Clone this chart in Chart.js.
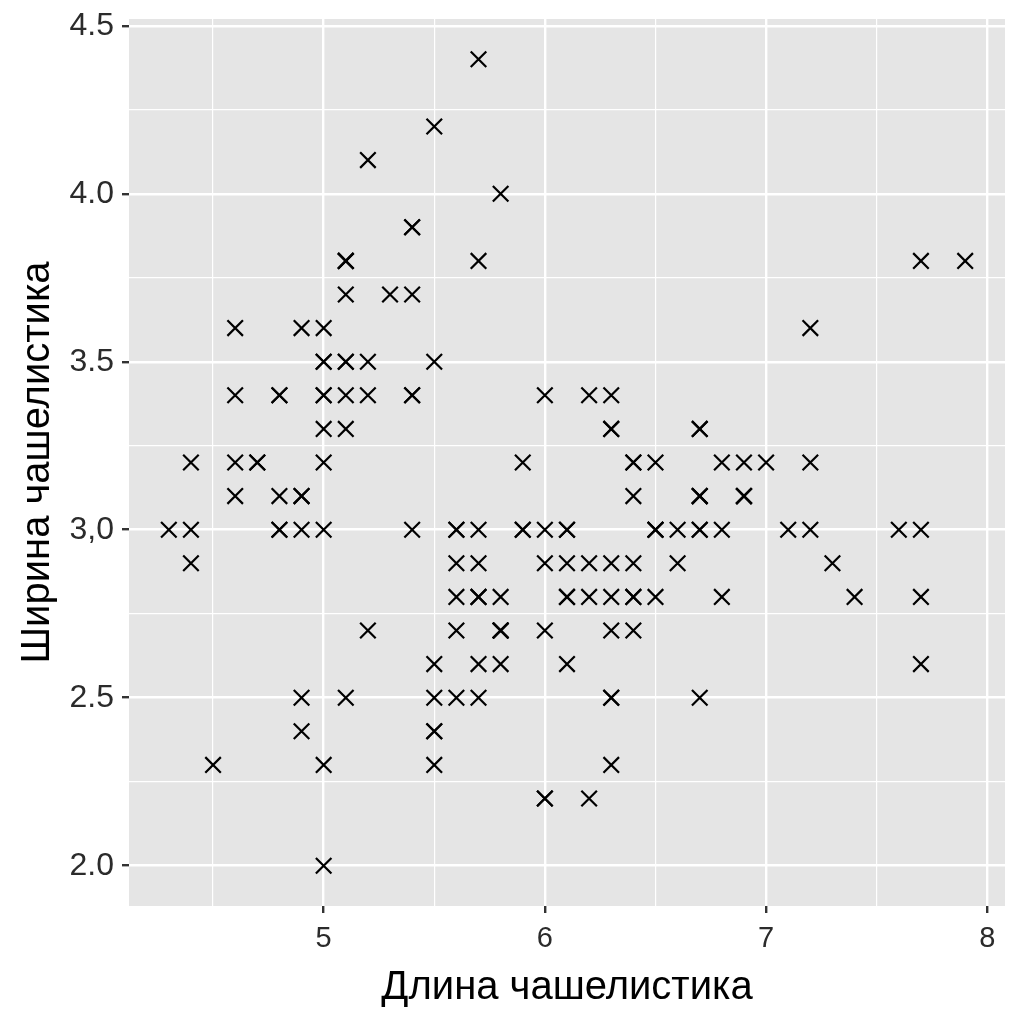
<!DOCTYPE html>
<html>
<head>
<meta charset="utf-8">
<script src="https://cdn.jsdelivr.net/npm/chart.js@4"></script>
<style>
  html, body { margin: 0; padding: 0; background: #fff; }
  #wrap { width: 1024px; height: 1024px; }
</style>
</head>
<body>
<div id="wrap"><canvas id="c" width="1024" height="1024"></canvas></div>
<script>
// iris: sepal length / sepal width
var sepalLength = [
  5.1,4.9,4.7,4.6,5.0,5.4,4.6,5.0,4.4,4.9,5.4,4.8,4.8,4.3,5.8,5.7,5.4,5.1,5.7,5.1,
  5.4,5.1,4.6,5.1,4.8,5.0,5.0,5.2,5.2,4.7,4.8,5.4,5.2,5.5,4.9,5.0,5.5,4.9,4.4,5.1,
  5.0,4.5,4.4,5.0,5.1,4.8,5.1,4.6,5.3,5.0,
  7.0,6.4,6.9,5.5,6.5,5.7,6.3,4.9,6.6,5.2,5.0,5.9,6.0,6.1,5.6,6.7,5.6,5.8,6.2,5.6,
  5.9,6.1,6.3,6.1,6.4,6.6,6.8,6.7,6.0,5.7,5.5,5.5,5.8,6.0,5.4,6.0,6.7,6.3,5.6,5.5,
  5.5,6.1,5.8,5.0,5.6,5.7,5.7,6.2,5.1,5.7,
  6.3,5.8,7.1,6.3,6.5,7.6,4.9,7.3,6.7,7.2,6.5,6.4,6.8,5.7,5.8,6.4,6.5,7.7,7.7,6.0,
  6.9,5.6,7.7,6.3,6.7,7.2,6.2,6.1,6.4,7.2,7.4,7.9,6.4,6.3,6.1,7.7,6.3,6.4,6.0,6.9,
  6.7,6.9,5.8,6.8,6.7,6.7,6.3,6.5,6.2,5.9
];
var sepalWidth = [
  3.5,3.0,3.2,3.1,3.6,3.9,3.4,3.4,2.9,3.1,3.7,3.4,3.0,3.0,4.0,4.4,3.9,3.5,3.8,3.8,
  3.4,3.7,3.6,3.3,3.4,3.0,3.4,3.5,3.4,3.2,3.1,3.4,4.1,4.2,3.1,3.2,3.5,3.6,3.0,3.4,
  3.5,2.3,3.2,3.5,3.8,3.0,3.8,3.2,3.7,3.3,
  3.2,3.2,3.1,2.3,2.8,2.8,3.3,2.4,2.9,2.7,2.0,3.0,2.2,2.9,2.9,3.1,3.0,2.7,2.2,2.5,
  3.2,2.8,2.5,2.8,2.9,3.0,2.8,3.0,2.9,2.6,2.4,2.4,2.7,2.7,3.0,3.4,3.1,2.3,3.0,2.5,
  2.6,3.0,2.6,2.3,2.7,3.0,2.9,2.9,2.5,2.8,
  3.3,2.7,3.0,2.9,3.0,3.0,2.5,2.9,2.5,3.6,3.2,2.7,3.0,2.5,2.8,3.2,3.0,3.8,2.6,2.2,
  3.2,2.8,2.8,2.7,3.3,3.2,2.8,3.0,2.8,3.0,2.8,3.8,2.8,2.8,2.6,3.0,3.4,3.1,3.0,3.1,
  3.1,3.1,2.7,3.2,3.3,3.0,2.5,3.0,3.4,3.0
];

var xTickValues = [4.5, 5, 5.5, 6, 6.5, 7, 7.5, 8];
var xTickLabels = { 5: "5", 6: "6", 7: "7", 8: "8" };
var yTickValues = [2.0, 2.25, 2.5, 2.75, 3.0, 3.25, 3.5, 3.75, 4.0, 4.25, 4.5];
var yTickLabels = { "2": "2.0", "2.5": "2.5", "3": "3,0", "3.5": "3.5", "4": "4.0", "4.5": "4.5" };
var xTitle = "Длина чашелистика";
var yTitle = "Ширина чашелистика";

var points = [];
for (var i = 0; i < sepalLength.length; i++)
    points.push({ x: sepalLength[i], y: sepalWidth[i] });

function isMajor(labels, v) { return labels[String(v)] !== undefined; }

var panelBg = {
    id: "panelBg",
    beforeDraw: function(chart) {
        var a = chart.chartArea, ctx = chart.ctx;
        ctx.save();
        ctx.fillStyle = "#E5E5E5";
        ctx.fillRect(a.left, a.top, a.right - a.left, a.bottom - a.top);
        ctx.restore();
    }
};

function gridOpts(labels) {
    return {
        drawOnChartArea: true,
        drawTicks: true,
        tickLength: 7,
        color: "#FFFFFF",
        lineWidth: function(c) { return isMajor(labels, c.tick.value) ? 2.4 : 1.2; },
        tickColor: function(c) { return isMajor(labels, c.tick.value) ? "#333333" : "rgba(0,0,0,0)"; },
        tickWidth: 2.4
    };
}

var font = "'Liberation Sans', Arial, Helvetica, sans-serif";

new Chart(document.getElementById("c").getContext("2d"), {
    type: "scatter",
    data: {
        datasets: [{
            data: points,
            pointStyle: "crossRot",
            pointRadius: 11,
            pointHoverRadius: 11,
            borderColor: "#000000",
            backgroundColor: "#000000",
            pointBorderWidth: 2.2
        }]
    },
    options: {
        responsive: false,
        animation: false,
        events: [],
        layout: { padding: { left: 0, right: 19, top: 19, bottom: 0 } },
        plugins: { legend: { display: false }, tooltip: { enabled: false } },
        scales: {
            x: {
                type: "linear",
                min: 4.12, max: 8.08,
                afterBuildTicks: function(s) { s.ticks = xTickValues.map(function(v) { return { value: v }; }); },
                afterFit: function(s) { s.height = 118; s.paddingLeft = 0; s.paddingRight = 0; },
                border: { display: false },
                grid: gridOpts(xTickLabels),
                ticks: {
                    autoSkip: false, maxRotation: 0, padding: 9,
                    color: "#2B2B2B",
                    font: { family: font, size: 29 },
                    callback: function(v) { return xTickLabels[String(v)] || ""; }
                },
                title: {
                    display: true, text: xTitle, color: "#000000",
                    font: { family: font, size: 40 },
                    padding: { top: 6, bottom: 12 }
                }
            },
            y: {
                type: "linear",
                min: 1.88, max: 4.52,
                afterBuildTicks: function(s) { s.ticks = yTickValues.map(function(v) { return { value: v }; }); },
                afterFit: function(s) { s.width = 129; s.paddingTop = 0; s.paddingBottom = 0; },
                border: { display: false },
                grid: gridOpts(yTickLabels),
                ticks: {
                    autoSkip: false, padding: 8,
                    color: "#2B2B2B",
                    font: { family: font, size: 32 },
                    callback: function(v) { return yTickLabels[String(v)] || ""; }
                },
                title: {
                    display: true, text: yTitle, color: "#000000",
                    font: { family: font, size: 40 },
                    padding: { top: 14, bottom: 4 }
                }
            }
        }
    },
    plugins: [panelBg]
});
</script>
</body>
</html>
